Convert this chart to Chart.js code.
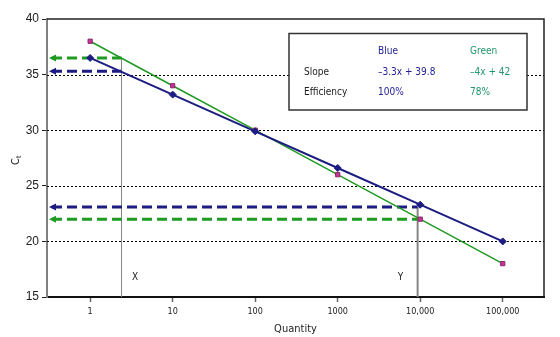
<!DOCTYPE html>
<html><head><meta charset="utf-8">
<script src="https://cdn.jsdelivr.net/npm/chart.js@4/dist/chart.umd.min.js"></script>
<style>html,body{margin:0;padding:0;background:#fff}#wrap{width:560px;height:337px}</style>
</head><body><div id="wrap"><canvas id="c" width="560" height="337"></canvas></div>
<script>
// Standard curve: Ct against starting quantity (log axis)
const quantities = [1, 10, 100, 1000, 10000, 100000];
const tickLabels = ['1', '10', '100', '1000', '10,000', '100,000'];
const blueCt = [36.5, 33.2, 29.9, 26.6, 23.3, 20.0];
const greenCt = [38, 34, 30, 26, 22, 18];
const yTickValues = [15, 20, 25, 30, 35, 40];
const gridValues = [20, 25, 30, 35];

// Read-off points X and Y: quantity and the Ct reached on each line
const readQty = [2.4, 9300];
const readLabels = ['X', 'Y'];
const readBlue = [35.3, 23.1];
const readGreen = [36.5, 22.0];

// Comparison table
const tableHeader = ['', 'Blue', 'Green'];
const tableSlope = ['Slope', '\u20133.3x + 39.8', '\u20134x + 42'];
const tableEff = ['Efficiency', '100%', '78%'];

const NAVY = '#1c1c82';
const GREEN = '#1f9a22';
const GREEN_TEXT = '#22976a';
const BLUE_TEXT = '#22229a';
const SMALL_FONT = '"DejaVu Sans Condensed", "DejaVu Sans", sans-serif';

const xMin = Math.pow(10, -0.5), xMax = Math.pow(10, 5.5);

function dashedArrow(ctx, x0, x1, y, color) {
  ctx.save();
  ctx.strokeStyle = color;
  ctx.lineWidth = 3;
  ctx.setLineDash([10, 5]);
  ctx.beginPath();
  ctx.moveTo(x0 + 3, y);
  ctx.lineTo(x1, y);
  ctx.stroke();
  ctx.setLineDash([]);
  ctx.fillStyle = color;
  ctx.beginPath();
  ctx.moveTo(x0, y);
  ctx.lineTo(x0 + 7, y - 3.5);
  ctx.lineTo(x0 + 7, y + 3.5);
  ctx.closePath();
  ctx.fill();
  ctx.restore();
}

const backdrop = {
  id: 'backdrop',
  beforeDatasetsDraw(chart) {
    const {ctx, chartArea: a, scales: {x, y}} = chart;
    ctx.save();
    // dotted horizontal gridlines
    ctx.strokeStyle = '#000';
    ctx.lineWidth = 1;
    ctx.setLineDash([2, 2]);
    gridValues.forEach(v => {
      const py = Math.round(y.getPixelForValue(v)) + 0.5;
      ctx.beginPath(); ctx.moveTo(a.left, py); ctx.lineTo(a.right, py); ctx.stroke();
    });
    ctx.setLineDash([]);
    // top and right frame
    ctx.strokeStyle = '#222';
    ctx.lineWidth = 1.5;
    ctx.beginPath();
    ctx.moveTo(a.left, a.top); ctx.lineTo(a.right, a.top); ctx.lineTo(a.right, a.bottom);
    ctx.stroke();
    // vertical read-off lines
    readQty.forEach((q, i) => {
      const px = x.getPixelForValue(q);
      const top = y.getPixelForValue(Math.max(readBlue[i], readGreen[i]));
      ctx.strokeStyle = '#858585';
      ctx.lineWidth = i === 0 ? 1 : 2;
      ctx.beginPath(); ctx.moveTo(px, a.bottom); ctx.lineTo(px, top); ctx.stroke();
    });
    // dashed arrows to the Ct axis
    readQty.forEach((q, i) => {
      const px = x.getPixelForValue(q);
      dashedArrow(ctx, a.left + 2, px, y.getPixelForValue(readGreen[i]), GREEN);
      dashedArrow(ctx, a.left + 2, px, y.getPixelForValue(readBlue[i]), NAVY);
    });
    ctx.restore();
  },
  afterDraw(chart) {
    const {ctx, chartArea: a, scales: {x, y}} = chart;
    ctx.save();
    // X / Y labels
    ctx.fillStyle = '#222';
    ctx.font = '10px ' + SMALL_FONT;
    ctx.textAlign = 'center';
    ctx.textBaseline = 'middle';
    readQty.forEach((q, i) => {
      const px = x.getPixelForValue(q);
      ctx.fillText(readLabels[i], px + (i === 0 ? 13.5 : -17), 277.5);
    });
    // Y axis title: C with subscript t
    ctx.save();
    ctx.translate(16, 160);
    ctx.rotate(-Math.PI / 2);
    ctx.textAlign = 'left';
    ctx.textBaseline = 'middle';
    ctx.font = '11px ' + SMALL_FONT;
    const cw = ctx.measureText('C').width;
    ctx.fillText('C', -(cw + 3) / 2, 0);
    ctx.font = '7px ' + SMALL_FONT;
    ctx.fillText('t', -(cw + 3) / 2 + cw, 3);
    ctx.restore();
    // table box
    ctx.fillStyle = '#fff';
    ctx.fillRect(289, 33.5, 238, 76.5);
    ctx.strokeStyle = '#333';
    ctx.lineWidth = 1.5;
    ctx.strokeRect(289, 33.5, 238, 76.5);
    ctx.font = '10px ' + SMALL_FONT;
    ctx.textAlign = 'left';
    ctx.textBaseline = 'middle';
    const cols = [304, 378, 470];
    const colColors = ['#222', BLUE_TEXT, GREEN_TEXT];
    [[tableHeader, 51], [tableSlope, 72], [tableEff, 92.5]].forEach(([row, ry]) => {
      row.forEach((t, ci) => {
        ctx.fillStyle = colColors[ci];
        ctx.fillText(t, cols[ci], ry);
      });
    });
    ctx.restore();
  }
};

new Chart(document.getElementById('c'), {
  type: 'line',
  data: {
    datasets: [
      {
        label: 'Blue',
        data: quantities.map((q, i) => ({x: q, y: blueCt[i]})),
        borderColor: NAVY,
        borderWidth: 2,
        backgroundColor: NAVY,
        pointStyle: 'rectRot',
        pointRadius: 3.5,
        pointBorderWidth: 1,
        pointBorderColor: NAVY,
        pointBackgroundColor: NAVY,
        tension: 0
      },
      {
        label: 'Green',
        data: quantities.map((q, i) => ({x: q, y: greenCt[i]})),
        borderColor: GREEN,
        borderWidth: 1.5,
        pointStyle: 'rect',
        pointRadius: 3,
        pointBorderWidth: 1,
        pointBorderColor: '#8a2a6a',
        pointBackgroundColor: '#c8339a',
        tension: 0
      }
    ]
  },
  options: {
    responsive: false,
    animation: false,
    devicePixelRatio: 1,
    layout: {padding: {top: 19, right: 16, left: 0, bottom: 0}},
    plugins: {legend: {display: false}, tooltip: {enabled: false}},
    scales: {
      x: {
        type: 'logarithmic',
        min: xMin,
        max: xMax,
        afterBuildTicks(s) { s.ticks = quantities.map(v => ({value: v})); },
        afterFit(s) { s.height = 40; },
        grid: {drawOnChartArea: false, drawTicks: true, tickLength: 5, tickColor: '#666', tickWidth: 1.5},
        border: {display: true, color: '#111', width: 2},
        ticks: {
          autoSkip: false, maxRotation: 0, padding: 4,
          color: '#222',
          font: {family: SMALL_FONT, size: 9},
          callback: (v, i) => tickLabels[i]
        },
        title: {
          display: true, text: 'Quantity', color: '#222',
          font: {family: SMALL_FONT, size: 11},
          padding: {top: 0, bottom: 1.5}
        }
      },
      y: {
        type: 'linear',
        min: 15,
        max: 40,
        afterBuildTicks(s) { s.ticks = yTickValues.map(v => ({value: v})); },
        afterFit(s) { s.width = 47; },
        grid: {drawOnChartArea: false, drawTicks: true, tickLength: 5, tickColor: '#222', tickWidth: 1},
        border: {display: true, color: '#808080', width: 2},
        ticks: {
          padding: 3,
          color: '#222',
          font: {family: '"Liberation Sans", Arial, sans-serif', size: 12}
        }
      }
    }
  },
  plugins: [backdrop]
});
</script>
</body></html>
